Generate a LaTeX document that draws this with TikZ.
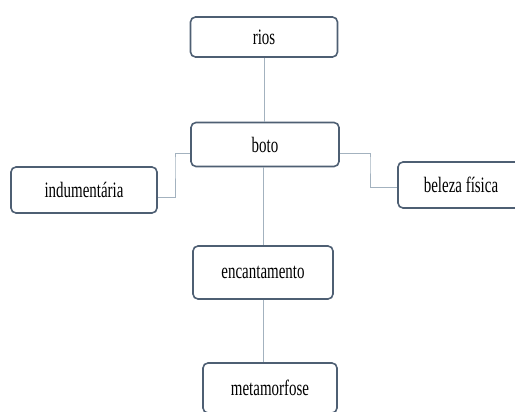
\documentclass[tikz,border=0pt]{standalone}
\usepackage{fontspec}
\setmainfont{Liberation Serif}
\newfontfamily\boxfont{Liberation Serif}[FakeStretch=0.68]
\usetikzlibrary{positioning}
\definecolor{boxline}{HTML}{4E5F73}
\definecolor{linkline}{HTML}{A3B2BF}

\begin{document}
\begin{tikzpicture}[x=1pt, y=-1pt, box/.style={draw=boxline, line width=1.6pt, rounded corners=5pt, minimum width=#1, minimum height=44pt, inner sep=0pt, fill=white, font=\boxfont\fontsize{22}{24}\selectfont}, link/.style={draw=linkline, line width=0.9pt}]
\useasboundingbox (0,0) rectangle (515,412);
\node[box=147pt, minimum height=40pt] (rios) at (264,37) {rios};
\node[box=148pt] (boto) at (265,144.5) {boto};
\node[box=146pt, minimum height=46pt] (indum) at (84,190) {indumentária};
\node[box=126pt, minimum height=46pt] (beleza) at (461,185) {beleza física};
\node[box=140pt, minimum height=53pt] (encant) at (263,272.5) {encantamento};
\node[box=134pt, minimum height=50pt] (metam) at (270,388) {metamorfose};
\coordinate (kl) at (175,160);
\coordinate (kr) at (370,160);
\draw[link] (rios) -- (rios |- boto.north);
\draw[link] (encant |- boto.south) -- (encant);
\draw[link] (encant) -- (encant |- metam.north);
\draw[link] ([yshift=-9pt]boto.west) -| (kl) |- ([yshift=-7pt]indum.east);
\draw[link] ([yshift=-9pt]boto.east) -| (kr) |- ([yshift=-2pt]beleza.west);
\end{tikzpicture}
\end{document}
